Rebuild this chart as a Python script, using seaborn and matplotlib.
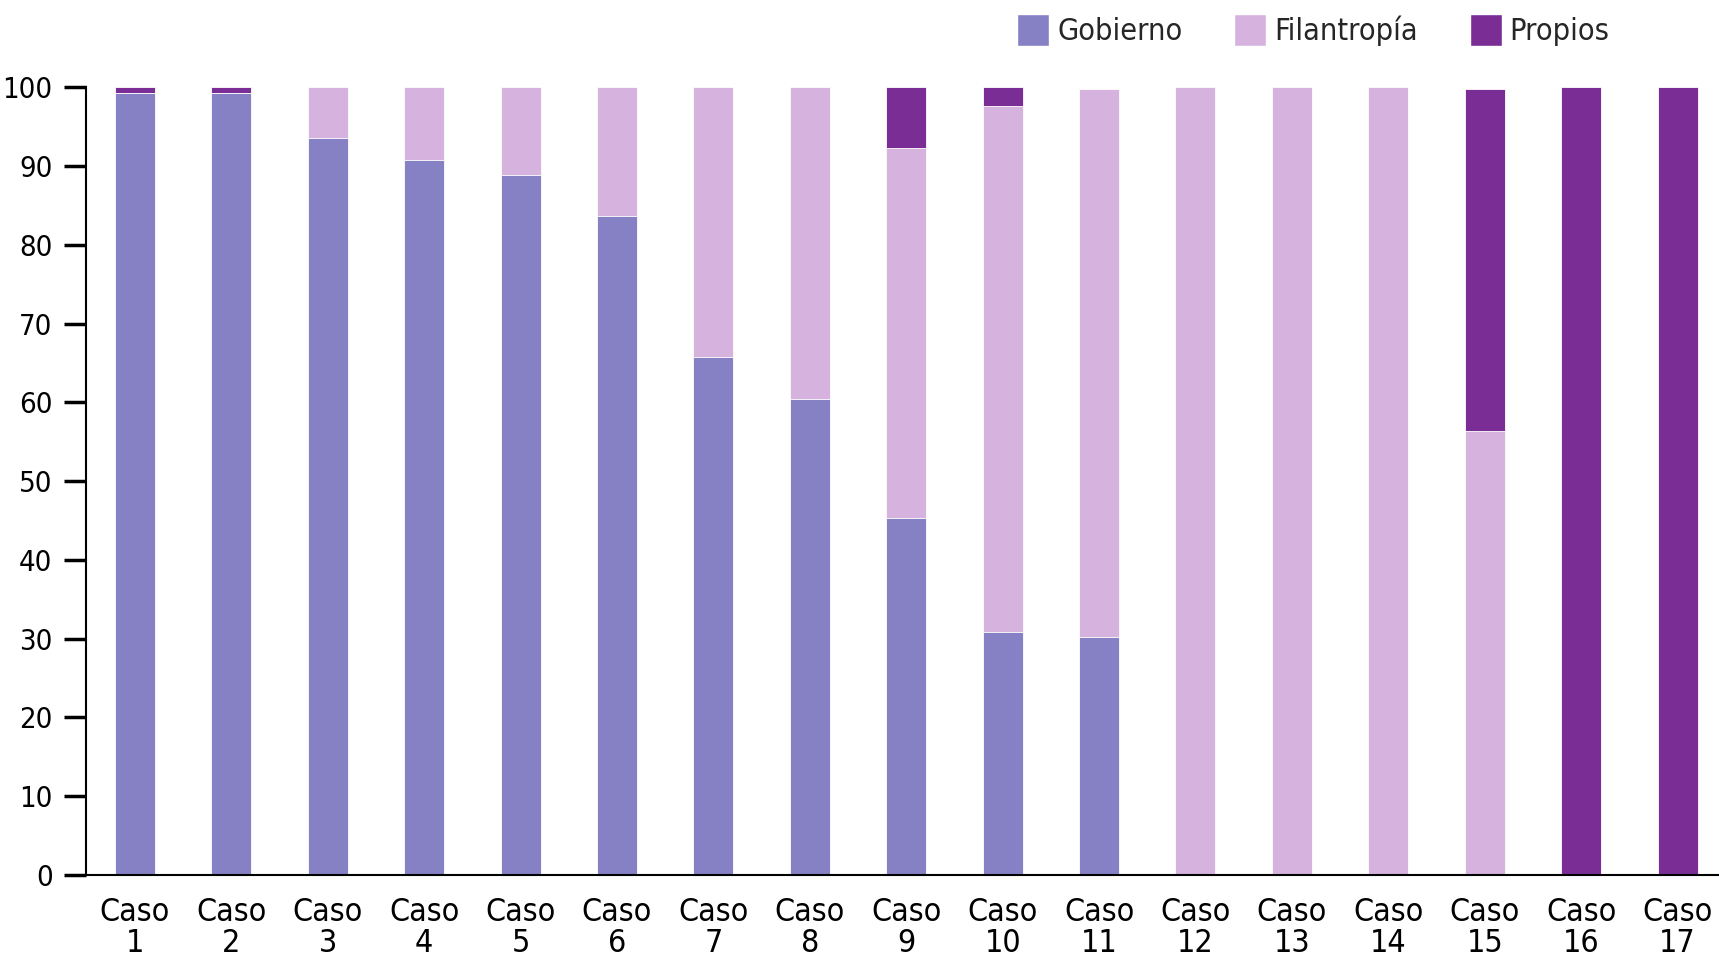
"""Stacked funding-source bars per case."""

import numpy as np
import matplotlib
matplotlib.use("Agg")
import matplotlib.pyplot as plt
from matplotlib import font_manager
from matplotlib.patches import Patch
import seaborn as sns

casos = [f"Caso\n{i}" for i in range(1, 18)]
gobierno = [99.2, 99.3, 93.5, 90.7, 88.9, 83.6, 65.7, 60.4, 45.3, 30.9, 30.2,
            0, 0, 0, 0, 0, 0]
filantropia = [0, 0, 6.5, 9.3, 11.1, 16.4, 34.3, 39.6, 47.0, 66.7, 69.6,
               100, 100, 100, 56.3, 0, 0]
propios = [0.8, 0.7, 0, 0, 0, 0, 0, 0, 7.7, 2.4, 0,
           0, 0, 0, 43.5, 100, 100]
series = ["Gobierno", "Filantropía", "Propios"]
colors = ["#8681C5", "#D6B3DE", "#7B2D96"]
yticks = list(range(0, 101, 10))

sns.set_style("white")

# use a condensed face when one is installed, otherwise plain DejaVu Sans
condensed = any(f.name == "DejaVu Sans" and f.stretch == "condensed"
                for f in font_manager.fontManager.ttflist)
plt.rcParams["font.family"] = ["DejaVu Sans"]
if condensed:
    plt.rcParams["font.stretch"] = "condensed"
    fs_x, fs_y, fs_leg = 23, 21, 22
else:
    fs_x, fs_y, fs_leg = 19, 17, 19

fig = plt.figure(figsize=(17.19, 9.68), dpi=100)
ax = fig.add_axes([0.050, 0.096, 0.950, 0.814])

g = np.array(gobierno)
f = np.array(filantropia)
p = np.array(propios)
# draw cumulative totals from the top down so segments stack
for vals, col in [(g + f + p, colors[2]), (g + f, colors[1]), (g, colors[0])]:
    sns.barplot(x=casos, y=vals, color=col, saturation=1, width=0.415,
                edgecolor="white", linewidth=0.6, ax=ax)

ax.set_ylim(0, 100)
ax.set_xlim(-0.508, 16.43)
ax.set_yticks(yticks)
ax.set_yticklabels([str(t) for t in yticks])
ax.set_xlabel("")
ax.set_ylabel("")
sns.despine(ax=ax)
for side in ["left", "bottom"]:
    ax.spines[side].set_linewidth(1.5)
    ax.spines[side].set_color("black")
ax.tick_params(axis="y", left=True, length=16, width=2.5, pad=8,
               labelsize=fs_y, colors="black")
ax.tick_params(axis="x", bottom=False, length=0, pad=16, labelsize=fs_x,
               colors="black")
for lab in ax.get_xticklabels():
    lab.set_linespacing(1.0)

handles = [Patch(facecolor=c, label=s) for s, c in zip(series, colors)]
fig.legend(handles=handles, loc="center", bbox_to_anchor=(0.764, 0.969),
           ncol=3, frameon=False, fontsize=fs_leg, handlelength=1.05,
           handleheight=1.25, handletextpad=0.25, columnspacing=1.7,
           borderpad=0)

fig.savefig("out.png", dpi=100)
plt.close(fig)
